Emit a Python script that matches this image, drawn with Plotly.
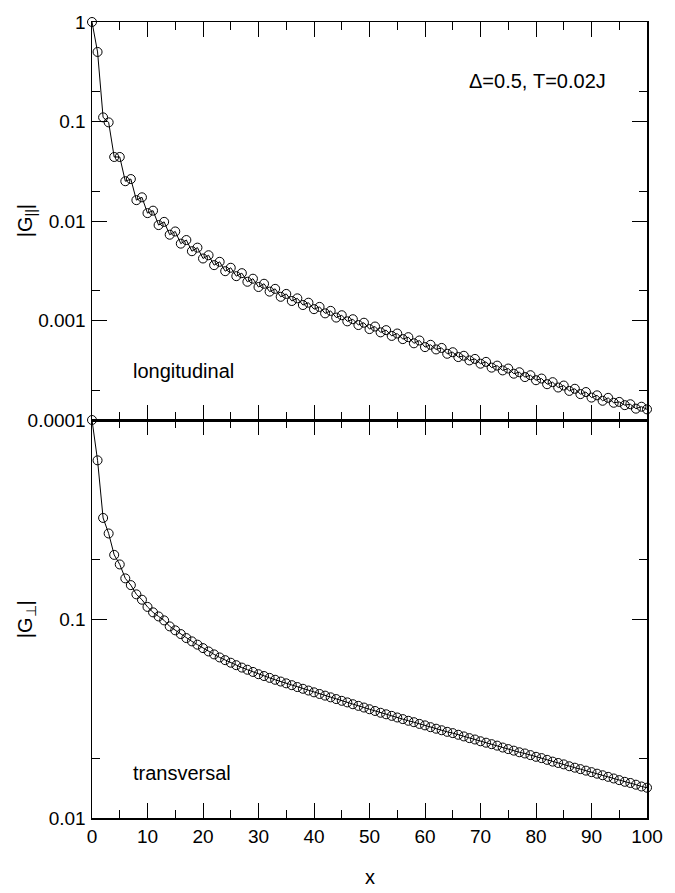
import plotly.graph_objects as go

x_vals = list(range(0, 101))

g_long = [
    1.0, 0.50, 0.110, 0.098, 0.044, 0.044, 0.0251, 0.0264, 0.0162, 0.0173,
    0.0120, 0.0127, 0.0091, 0.0098, 0.00728, 0.00785, 0.00592, 0.00644, 0.00497, 0.00540,
    0.00420, 0.00453, 0.00360, 0.00389, 0.00313, 0.00339, 0.00279, 0.00299, 0.00245, 0.00263,
    0.00217, 0.00234, 0.00195, 0.00208, 0.00173, 0.00185, 0.00157, 0.00167, 0.00143, 0.00151,
    0.00130, 0.00137, 0.00118, 0.00125, 0.00107, 0.00113, 0.00098, 0.00103, 0.00090, 0.00095,
    0.00082, 0.00087, 0.00076, 0.00080, 0.00070, 0.00074, 0.00065, 0.00068, 0.00059, 0.00063,
    0.00054, 0.00057, 0.000512, 0.000530, 0.000463, 0.000480, 0.000429, 0.000442, 0.000397, 0.000411,
    0.000368, 0.000384, 0.000336, 0.000352, 0.000315, 0.000329, 0.000292, 0.000302, 0.000270, 0.000282,
    0.000251, 0.000261, 0.000229, 0.000240, 0.000212, 0.000222, 0.000196, 0.000206, 0.000182, 0.000191,
    0.000168, 0.000177, 0.000156, 0.000167, 0.000149, 0.000152, 0.000141, 0.000144, 0.000130, 0.000136,
    0.000128,
]

g_trans = [
    1.0, 0.627, 0.322, 0.269, 0.210, 0.188, 0.160, 0.148, 0.133, 0.125,
    0.115, 0.108, 0.103, 0.0984, 0.0918, 0.0877, 0.0840, 0.0802, 0.0772, 0.0743,
    0.0714, 0.0687, 0.0664, 0.0641, 0.0621, 0.0603, 0.0586, 0.0570, 0.0556, 0.0542,
    0.0528, 0.0517, 0.0506, 0.0495, 0.0485, 0.0475, 0.0465, 0.0455, 0.0446, 0.0437,
    0.0428, 0.0420, 0.0412, 0.0404, 0.0396, 0.0388, 0.0381, 0.0373, 0.0366, 0.0359,
    0.0352, 0.0345, 0.0338, 0.0332, 0.0326, 0.0320, 0.0314, 0.0308, 0.0303, 0.0297,
    0.0292, 0.0286, 0.0281, 0.0276, 0.0271, 0.0267, 0.0262, 0.0257, 0.0252, 0.0248,
    0.0243, 0.0239, 0.0235, 0.0231, 0.0226, 0.0222, 0.0218, 0.0214, 0.0211, 0.0207,
    0.0203, 0.0200, 0.0196, 0.0192, 0.0189, 0.0186, 0.0182, 0.0179, 0.0176, 0.0173,
    0.0170, 0.0167, 0.0164, 0.0161, 0.0158, 0.0155, 0.0152, 0.0150, 0.0147, 0.0144,
    0.0142,
]

x_ticks = [0, 10, 20, 30, 40, 50, 60, 70, 80, 90, 100]
x_minor = [5, 15, 25, 35, 45, 55, 65, 75, 85, 95]
top_ticks = [0.0001, 0.001, 0.01, 0.1, 1]
top_labels = ["0.0001", "0.001", "0.01", "0.1", "1"]
top_minor = [0.0002, 0.002, 0.02, 0.2]
bot_ticks = [0.01, 0.1]
bot_labels = ["0.01", "0.1"]
bot_minor = [0.02, 0.2]

FONT = "Liberation Sans, Arial, sans-serif"
TICK_SIZE = 19
TEXT_SIZE = 20

L, R, T, B = 92, 18, 16, 75
W, H = 675, 893
PW = W - L - R

fig = go.Figure()
mk = dict(symbol="circle-open", size=9, color="black", line=dict(width=1, color="black"))
fig.add_trace(go.Scatter(x=x_vals, y=g_long, mode="lines+markers", line=dict(color="black", width=1),
                         marker=mk, xaxis="x2", yaxis="y2", showlegend=False, cliponaxis=False))
fig.add_trace(go.Scatter(x=x_vals, y=g_trans, mode="lines+markers", line=dict(color="black", width=1),
                         marker=mk, xaxis="x", yaxis="y", showlegend=False, cliponaxis=False))

common_x = dict(range=[0, 100], tickmode="array", tickvals=x_ticks, ticks="inside", ticklen=15,
                tickwidth=1, tickcolor="black", showline=True, linecolor="black", linewidth=1.5,
                mirror="ticks", showgrid=False, zeroline=False,
                minor=dict(tickmode="array", tickvals=x_minor, ticks="inside", ticklen=8,
                           tickcolor="black", tickwidth=1, showgrid=False))

common_y = dict(type="log", tickmode="array", ticks="inside", ticklen=15, tickwidth=1,
                tickcolor="black", showline=True, linecolor="black", linewidth=1.5,
                mirror="ticks", showgrid=False, zeroline=False,
                tickfont=dict(size=TICK_SIZE), ticklabelstandoff=1)

fig.update_layout(
    width=W, height=H,
    margin=dict(l=L, r=R, t=T, b=B),
    paper_bgcolor="white", plot_bgcolor="white",
    font=dict(family=FONT, size=TICK_SIZE, color="black"),
    xaxis=dict(**common_x, domain=[0, 1], anchor="y", ticklabelstandoff=1,
               tickfont=dict(size=TICK_SIZE)),
    xaxis2=dict(**common_x, domain=[0, 1], anchor="y2", matches="x", showticklabels=False),
    yaxis=dict(**common_y, range=[-2, 0], domain=[0, 0.5], anchor="x",
               tickvals=bot_ticks, ticktext=bot_labels,
               minor=dict(tickmode="array", tickvals=bot_minor, ticks="inside", ticklen=8,
                          tickcolor="black", tickwidth=1, showgrid=False)),
    yaxis2=dict(**common_y, range=[-4, 0], domain=[0.5, 1], anchor="x2",
                tickvals=top_ticks, ticktext=top_labels,
                minor=dict(tickmode="array", tickvals=top_minor, ticks="inside", ticklen=8,
                           tickcolor="black", tickwidth=1, showgrid=False)),
    annotations=[
        dict(text="Δ=0.5, T=0.02J", x=67.5, y=-0.59, xref="x2", yref="y2", xanchor="left",
             yanchor="middle", showarrow=False, font=dict(size=TEXT_SIZE)),
        dict(text="longitudinal", x=7.0, y=-3.51, xref="x2", yref="y2", xanchor="left",
             yanchor="middle", showarrow=False, font=dict(size=TEXT_SIZE)),
        dict(text="transversal", x=7.0, y=-1.776, xref="x", yref="y", xanchor="left",
             yanchor="middle", showarrow=False, font=dict(size=TEXT_SIZE)),
        dict(text="|G<sub>||</sub>|", x=(25 - L) / PW, y=0.75, xref="paper", yref="paper",
             xanchor="center", yanchor="middle", textangle=-90, showarrow=False,
             font=dict(size=TEXT_SIZE)),
        dict(text="|G<sub>⊥</sub>|", x=(25 - L) / PW, y=0.25, xref="paper", yref="paper",
             xanchor="center", yanchor="middle", textangle=-90, showarrow=False,
             font=dict(size=TEXT_SIZE)),
        dict(text="x", x=0.5, y=-(877 - (H - B)) / (H - T - B), xref="paper", yref="paper",
             xanchor="center", yanchor="middle", showarrow=False, font=dict(size=TEXT_SIZE)),
    ],
)

fig.write_html(
    "out.html",
    config={"displayModeBar": False, "staticPlot": True},
    post_script="document.body.style.margin='0';document.body.style.padding='0';"
                "document.documentElement.style.overflow='hidden';",
)
